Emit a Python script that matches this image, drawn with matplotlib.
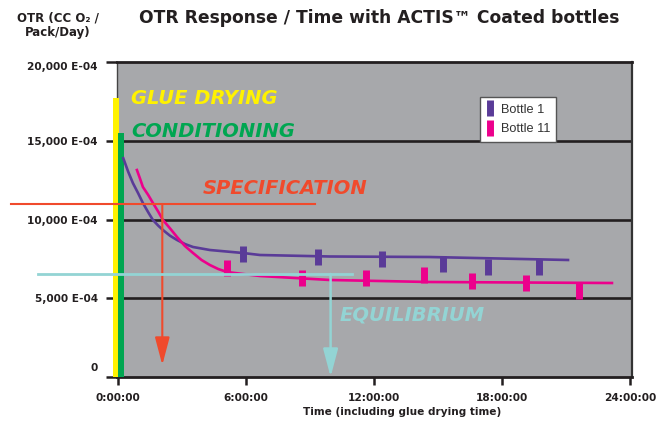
import numpy as np
import matplotlib
matplotlib.use('Agg')
import matplotlib.pyplot as plt
from matplotlib.lines import Line2D
from matplotlib.transforms import ScaledTranslation

# curves (hours, OTR in E-04 units)
b1_curve_t = [0.25, 0.48, 0.70, 0.95, 1.17, 1.42, 1.64, 1.89, 2.11, 2.44, 2.77, 3.14, 3.52, 4.31, 5.86, 6.66, 9.94, 14.6, 21.1]
b1_curve_v = [13890, 13035, 12317, 11660, 11048, 10457, 9968, 9608, 9333, 8972, 8698, 8444, 8254, 8063, 7873, 7746, 7651, 7619, 7429]
b11_curve_t = [0.89, 1.03, 1.17, 1.42, 1.64, 1.89, 2.11, 2.44, 2.77, 3.14, 3.52, 3.92, 4.31, 4.70, 5.11, 5.86, 6.66, 9.94, 14.6, 23.16]
b11_curve_v = [13143, 12613, 12063, 11556, 11048, 10497, 9968, 9439, 8889, 8317, 7873, 7429, 7111, 6857, 6667, 6540, 6413, 6159, 6032, 5968]

# measured points
b1_t = [5.86, 9.38, 12.38, 15.23, 17.34, 19.73]
b1_v = [7810, 7619, 7492, 7175, 6984, 6984]
b11_t = [5.11, 8.63, 11.63, 14.34, 16.59, 19.13, 21.61]
b11_v = [6921, 6286, 6286, 6476, 6095, 5968, 5460]

spec_level = 10984
spec_t = 2.08
equil_level = 6540
equil_t = 9.97
glue_top = 17740
cond_top = 15510

x_ticks = [0, 6, 12, 18, 24]
x_labels = ['0:00:00', '6:00:00', '12:00:00', '18:00:00', '24:00:00']
y_ticks = [0, 5000, 10000, 15000, 20000]
y_labels = ['0', '5,000 E-04', '10,000 E-04', '15,000 E-04', '20,000 E-04']

purple = '#5a3b98'
magenta = '#ec008c'
red = '#f04a2c'
cyan = '#93d4d4'
yellow = '#fff200'
green = '#00a651'
dark = '#231f20'

fig = plt.figure(figsize=(6.59, 4.26), dpi=100)
ax = fig.add_axes([117.3 / 659, 49 / 426, (632 - 117.3) / 659, 315 / 426])
ax.set_facecolor('#a7a8ab')
ax.set_xlim(-0.03, 24.1)
ax.set_ylim(0, 20000)

for v in [5000, 10000, 15000]:
    ax.axhline(v, color=dark, lw=1.9, zorder=1)

ax.set_xticks(x_ticks)
ax.set_xticklabels(x_labels, fontsize=7.6, fontweight='bold', color=dark)
ax.set_yticks(y_ticks)
ax.set_yticklabels(y_labels, fontsize=7.6, fontweight='bold', color=dark)
ax.tick_params(axis='y', direction='out', length=8, width=1.8, color=dark, pad=6)
ax.tick_params(axis='x', direction='out', length=6, width=1.8, color=dark, pad=5.5)

ylab = ax.get_yticklabels()
ylab[0].set_transform(ylab[0].get_transform() + ScaledTranslation(0, 0.10, fig.dpi_scale_trans))
ylab[-1].set_transform(ylab[-1].get_transform() + ScaledTranslation(0, -0.04, fig.dpi_scale_trans))

ax.spines['top'].set_linewidth(2.0)
ax.spines['top'].set_color(dark)
ax.spines['bottom'].set_linewidth(2.0)
ax.spines['bottom'].set_color(dark)
ax.spines['left'].set_linewidth(1.0)
ax.spines['left'].set_color('#444444')
ax.spines['right'].set_linewidth(1.6)
ax.spines['right'].set_color('#333333')

# glue drying / conditioning bars
ax.axvspan(-0.22, 0.06, ymax=glue_top / 20000, color=yellow, lw=0, zorder=3, clip_on=False)
ax.axvspan(0.02, 0.28, ymax=cond_top / 20000, color=green, lw=0, zorder=3.1, clip_on=False)

ax.plot(b1_curve_t, b1_curve_v, color=purple, lw=1.9, zorder=4)
ax.plot(b11_curve_t, b11_curve_v, color=magenta, lw=1.9, zorder=4)
ax.plot(b1_t, b1_v, ls='none', marker='|', ms=12, mew=5, color=purple, zorder=5)
ax.plot(b11_t, b11_v, ls='none', marker='|', ms=12, mew=5, color=magenta, zorder=5)

# specification and equilibrium guides
ax.plot([-5.02, 9.23], [spec_level, spec_level], color=red, lw=1.5, zorder=6, clip_on=False)
ax.annotate('', xy=(spec_t, 760), xytext=(spec_t, spec_level),
            arrowprops=dict(arrowstyle='-|>,head_length=1.7,head_width=0.45', mutation_scale=10,
                            color=red, lw=1.5, shrinkA=0, shrinkB=0), zorder=6)
ax.plot([-3.75, 10.97], [equil_level, equil_level], color=cyan, lw=2.0, zorder=6, clip_on=False)
ax.annotate('', xy=(equil_t, 0), xytext=(equil_t, equil_level),
            arrowprops=dict(arrowstyle='-|>,head_length=1.7,head_width=0.45', mutation_scale=10,
                            color=cyan, lw=1.8, shrinkA=0, shrinkB=0), zorder=6)

tkw = dict(fontsize=14, fontweight='bold', fontstyle='italic', ha='left', va='center', zorder=7)
ax.text(0.61, 17714, 'GLUE DRYING', color=yellow, **tkw)
ax.text(0.61, 15619, 'CONDITIONING', color=green, **tkw)
ax.text(3.98, 12000, 'SPECIFICATION', color=red, **tkw)
ax.text(10.4, 3937, 'EQUILIBRIUM', color=cyan, **tkw)

leg_handles = [Line2D([], [], ls='none', marker='|', ms=11, mew=5, color=purple),
               Line2D([], [], ls='none', marker='|', ms=11, mew=5, color=magenta)]
leg = ax.legend(leg_handles, ['Bottle 1', 'Bottle 11'], loc='upper left',
                bbox_to_anchor=(0.705, 0.888), borderaxespad=0, frameon=True, fancybox=False,
                edgecolor='#555555', framealpha=1, handlelength=0.5, handletextpad=0.6,
                borderpad=0.5, labelspacing=0.6, prop={'family': 'Liberation Sans', 'size': 9.2})
leg.get_frame().set_linewidth(1.0)
for t in leg.get_texts():
    t.set_color('#333333')

fig.text(379.5 / 659, 1 - 18 / 426, 'OTR Response / Time with ACTIS\u2122 Coated bottles',
         ha='center', va='center', fontsize=12.3, fontweight='bold', color=dark)
fig.text(58 / 659, 1 - 25 / 426, 'OTR (CC O\u2082 /\nPack/Day)', ha='center', va='center',
         fontsize=8.5, fontweight='bold', color=dark, linespacing=1.15)
fig.text(402 / 659, 1 - 412 / 426, 'Time (including glue drying time)', ha='center', va='center',
         fontsize=7.6, fontweight='bold', color=dark)

fig.savefig('out.png', dpi=100)
